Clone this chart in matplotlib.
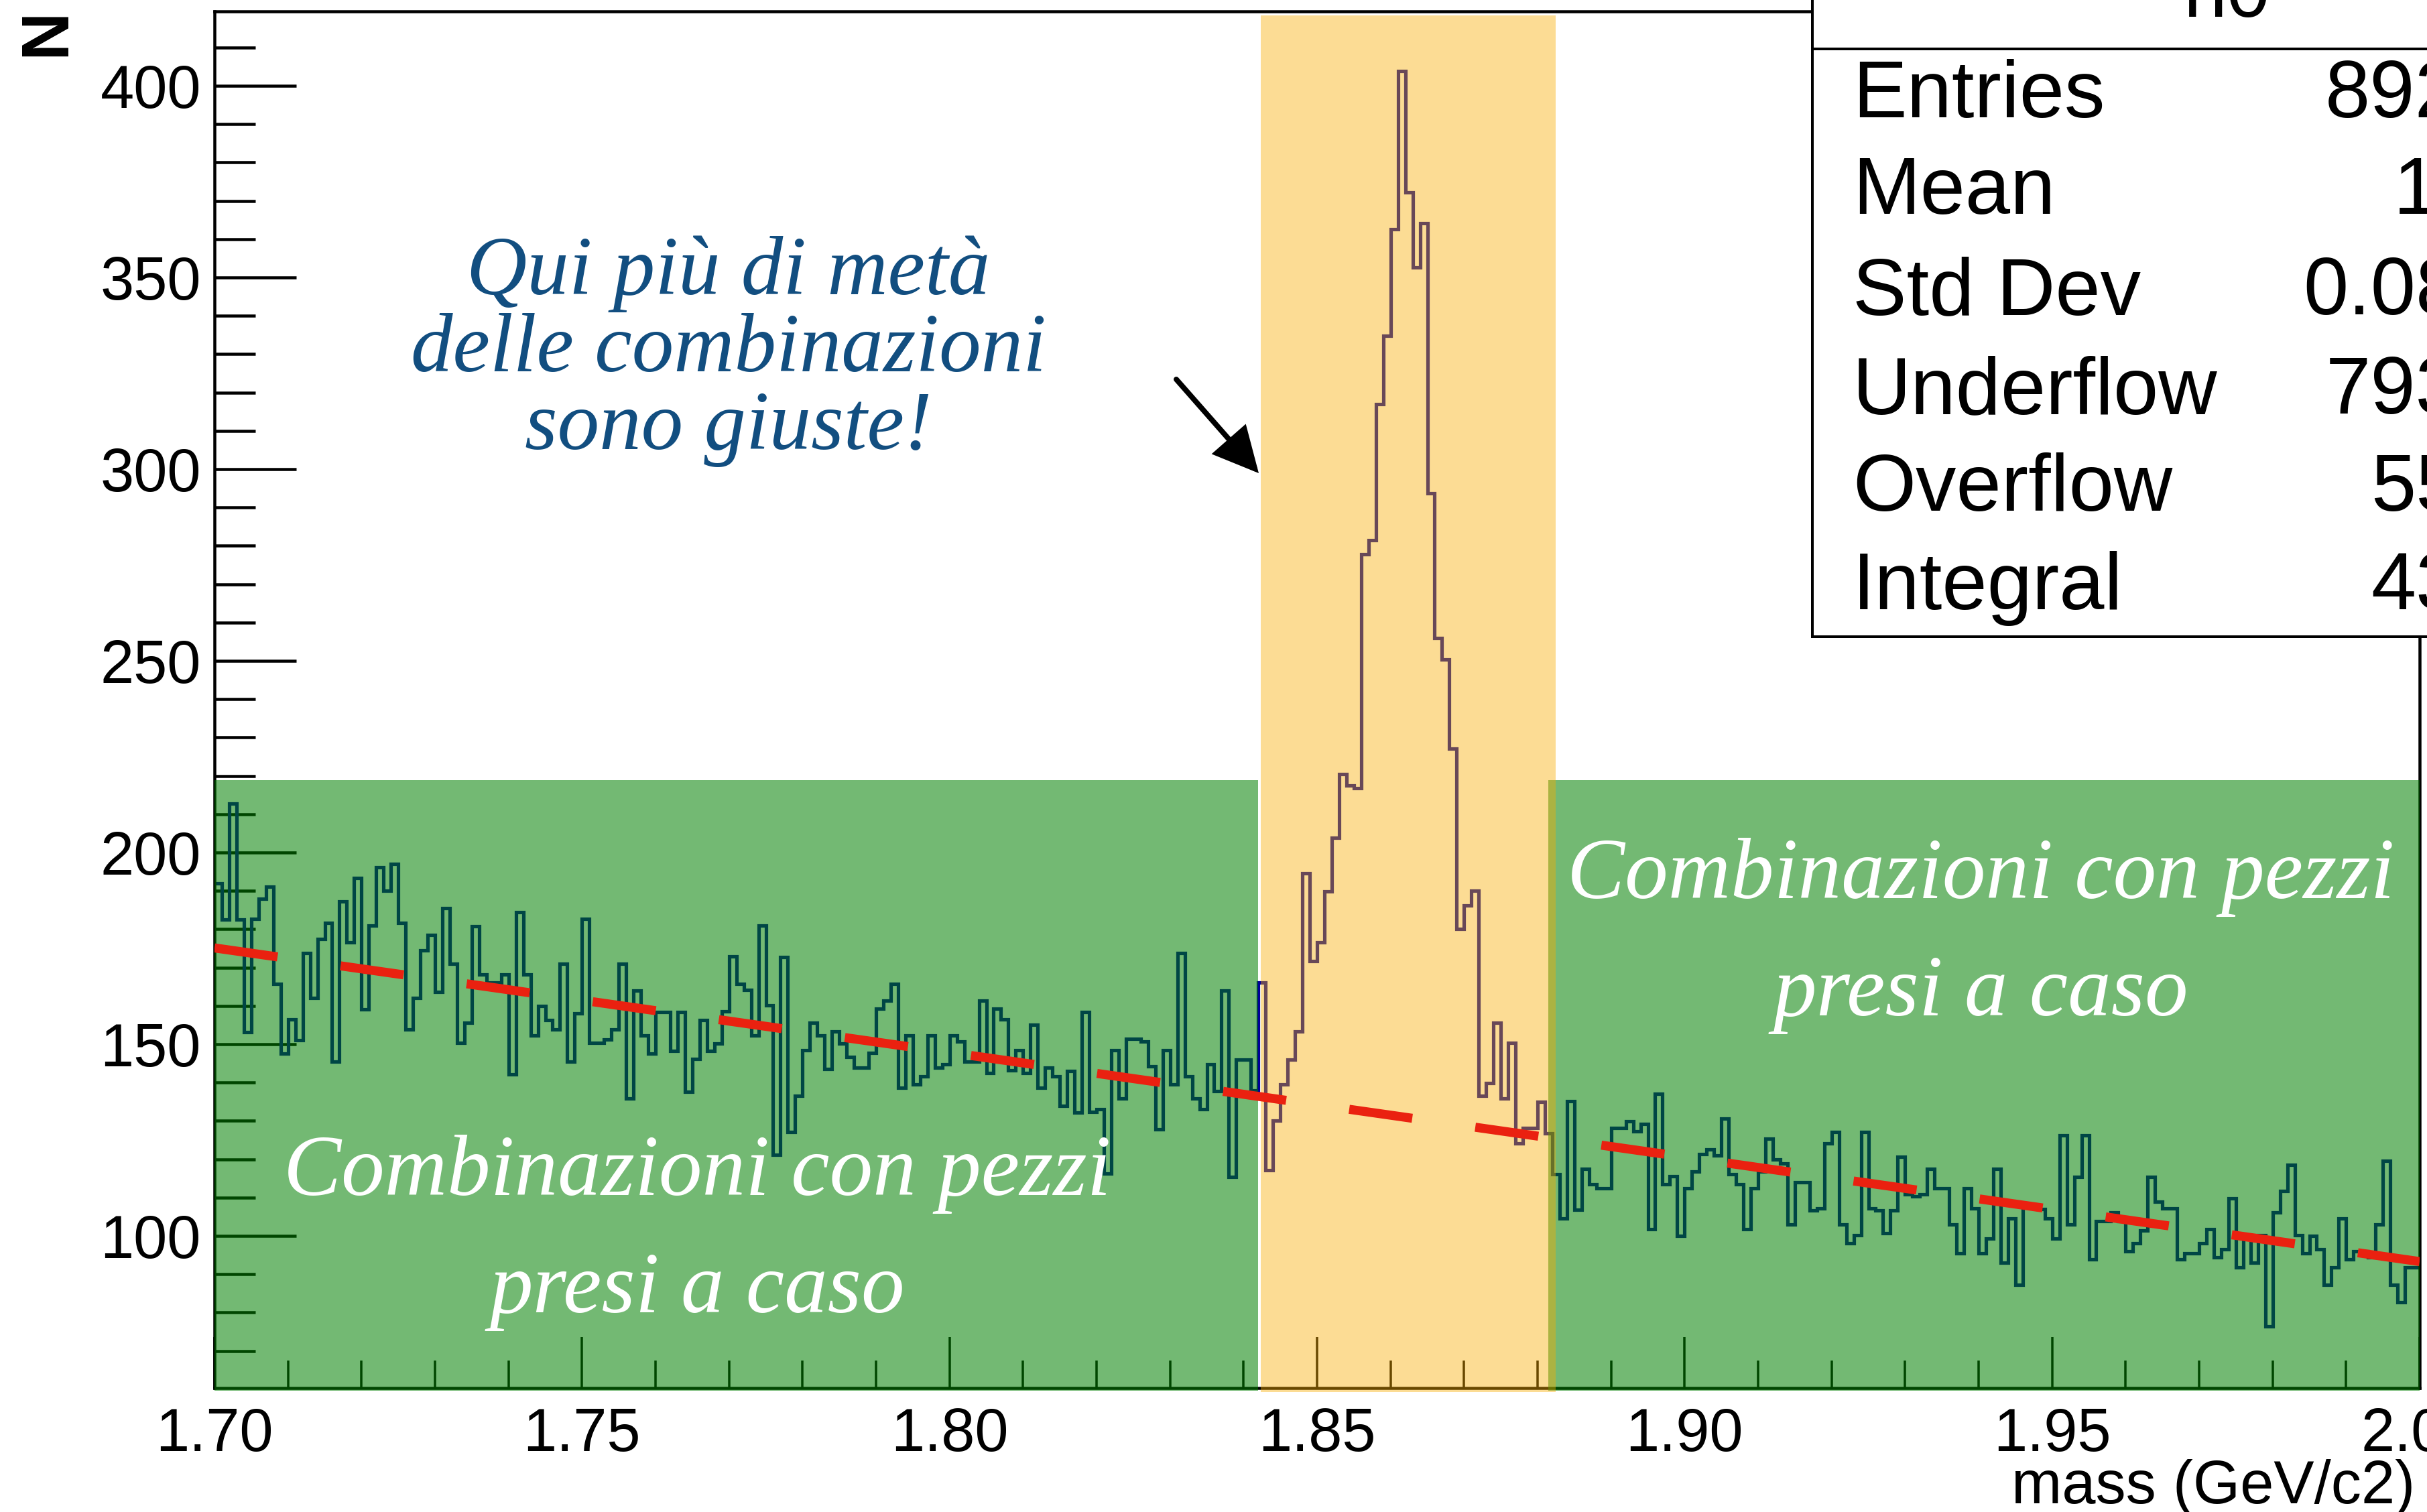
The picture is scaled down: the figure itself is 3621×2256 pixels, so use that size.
import numpy as np
import matplotlib
matplotlib.use("Agg")
import matplotlib.pyplot as plt
from matplotlib.patches import Rectangle
from matplotlib.lines import Line2D

# ---------------- data ----------------
x_min, x_max, n_bins = 1.70, 2.00, 300

counts_000_099 = [
    192.0, 182.5, 212.7, 182.5, 153.1, 182.7, 188.0, 191.0, 165.7, 147.5,
    156.5, 151.0, 173.8, 162.0, 177.4, 181.6, 145.5, 187.3, 176.6, 193.4,
    159.1, 180.9, 196.1, 190.1, 197.0, 181.6, 153.8, 162.1, 174.5, 178.5,
    163.7, 185.5, 171.0, 150.3, 155.6, 180.7, 168.2, 166.0, 166.0, 168.2,
    142.1, 184.4, 168.2, 152.2, 160.0, 156.3, 153.8, 171.0, 145.5, 158.1,
    182.7, 150.3, 150.3, 151.2, 153.8, 171.0, 135.8, 163.9, 152.2, 147.5,
    158.3, 158.3, 148.3, 158.3, 137.6, 146.2, 156.3, 148.3, 150.1, 158.6,
    172.9, 165.7, 164.1, 152.2, 180.9, 160.2, 121.2, 172.7, 127.0, 136.6,
    148.5, 155.6, 152.2, 143.5, 153.3, 150.1, 146.7, 143.9, 143.9, 147.8,
    159.3, 161.3, 165.7, 138.7, 152.2, 139.5, 141.6, 152.2, 143.9, 144.8,
]
counts_100_199 = [
    152.2, 150.6, 145.5, 145.5, 161.3, 142.5, 159.3, 156.5, 143.2, 148.5,
    142.5, 155.1, 138.7, 143.9, 141.6, 133.9, 143.0, 132.1, 158.4, 132.3,
    133.1, 116.3, 148.5, 135.8, 151.4, 151.4, 150.6, 144.3, 127.8, 148.5,
    139.5, 173.8, 141.6, 135.8, 133.1, 144.8, 137.7, 163.9, 115.3, 145.9,
    145.9, 138.0, 166.0, 117.2, 130.0, 139.5, 145.9, 153.3, 194.5, 171.7,
    176.6, 189.9, 203.8, 220.5, 217.5, 216.8, 277.8, 281.4, 316.9, 334.7,
    362.5, 403.8, 372.2, 352.7, 364.2, 293.7, 256.0, 250.3, 227.1, 180.1,
    186.2, 190.1, 136.5, 139.8, 155.6, 135.8, 150.4, 124.1, 128.1, 128.1,
    135.0, 126.8, 116.1, 104.5, 135.2, 106.8, 117.4, 113.5, 112.4, 112.4,
    128.1, 128.1, 129.9, 127.3, 129.1, 101.8, 137.0, 113.5, 115.6, 99.9,
]
counts_200_299 = [
    112.4, 116.7, 121.4, 122.5, 120.9, 130.5, 116.1, 113.5, 101.8, 112.4,
    116.7, 125.4, 119.9, 118.8, 102.9, 114.0, 114.0, 106.6, 107.1, 124.1,
    127.1, 102.9, 98.1, 100.2, 127.1, 107.1, 106.6, 100.7, 106.6, 120.6,
    110.8, 110.3, 110.8, 117.4, 112.4, 112.4, 102.9, 95.4, 112.4, 107.1,
    95.4, 99.2, 117.4, 93.0, 104.5, 87.3, 108.0, 107.6, 107.0, 104.5,
    99.2, 126.2, 102.9, 115.3, 126.2, 93.8, 103.9, 103.9, 106.1, 103.9,
    96.0, 98.1, 101.3, 115.3, 108.9, 107.1, 107.1, 93.8, 95.4, 95.4,
    98.1, 101.8, 94.4, 96.5, 109.8, 91.7, 100.0, 93.0, 100.2, 76.3,
    106.1, 111.7, 118.5, 100.2, 95.4, 100.0, 96.5, 87.3, 91.7, 104.5,
    93.8, 96.0, 96.0, 94.4, 102.9, 119.5, 87.3, 82.7, 91.7, 91.7,
]

# linear background fit: value at x_min and slope (per GeV)
bkg_at_xmin = 175.1
bkg_slope = -272.7

# highlighted regions
sideband_low = [1.70, 1.8420]
sideband_high = [1.8815, 2.00]
sideband_top = 218.8
signal_window = [1.8423, 1.8825]

y_range = [60.3, 419.4]
x_ticks = [1.70, 1.75, 1.80, 1.85, 1.90, 1.95, 2.00]
y_ticks = [100, 150, 200, 250, 300, 350, 400]

note_lines = ["Qui più di metà", "delle combinazioni", "sono giuste!"]
bkg_lines = ["Combinazioni con pezzi", "presi a caso"]

hist_title = "h0"
stats_labels = ["Entries", "Mean", "Std Dev", "Underflow", "Overflow", "Integral"]
stats_values = ["892279", "1.843", "0.08354", "793512", "55301", "43466"]

x_title = "mass (GeV/c2)"
y_title = "N"

# ---------------- figure ----------------
W, H, DPI = 3621, 2256, 100
PT = 72.0 / DPI  # points per pixel

fig = plt.figure(figsize=(W / DPI, H / DPI), dpi=DPI, facecolor="white")
ax = fig.add_axes([320 / W, 185 / H, 3290 / W, 2054 / H])

counts = np.array(counts_000_099 + counts_100_199 + counts_200_299)
edges = np.linspace(x_min, x_max, n_bins + 1)

sans = "Liberation Sans"
script = "Liberation Serif"

ax.stairs(counts, edges, baseline=None, color=(0, 0, 0.6), linewidth=5.2 * PT, zorder=2)

ax.set_xlim(x_min, x_max)
ax.set_ylim(*y_range)

ax.set_xticks(x_ticks)
ax.set_xticklabels([f"{t:.2f}" for t in x_ticks])
ax.set_xticks(np.arange(1.70, 2.0001, 0.01), minor=True)
ax.set_yticks(y_ticks)
ax.set_yticklabels([f"{t:d}" for t in y_ticks])
ax.set_yticks(np.arange(70, 419, 10), minor=True)

lab_fs = 65
for lab in ax.get_xticklabels() + ax.get_yticklabels():
    lab.set_fontfamily(sans)
    lab.set_fontsize(lab_fs)

ax.tick_params(axis="y", which="major", direction="in", length=122 * PT, width=4.5 * PT, pad=20 * PT)
ax.tick_params(axis="y", which="minor", direction="in", length=61 * PT, width=4.5 * PT)
ax.tick_params(axis="x", which="major", direction="in", length=76 * PT, width=3.5 * PT, pad=28 * PT)
ax.tick_params(axis="x", which="minor", direction="in", length=41 * PT, width=3.5 * PT)
for s in ax.spines.values():
    s.set_linewidth(4.5 * PT)

# highlight overlays (drawn above the frame/ticks, like highlighter marks)
green = (0.0, 0.50, 0.0)
ax.add_patch(Rectangle((sideband_low[0], y_range[0] - 0.7), sideband_low[1] - sideband_low[0],
                       sideband_top - y_range[0] + 0.7, facecolor=green, alpha=0.55,
                       edgecolor="none", zorder=3, clip_on=False))
ax.add_patch(Rectangle((sideband_high[0], y_range[0] - 0.7), sideband_high[1] - sideband_high[0],
                       sideband_top - y_range[0] + 0.7, facecolor=green, alpha=0.55,
                       edgecolor="none", zorder=3, clip_on=False))
ax.add_patch(Rectangle((signal_window[0], y_range[0] - 1.0), signal_window[1] - signal_window[0],
                       y_range[1] - 1.0 - y_range[0] + 1.0, facecolor=(0.98, 0.675, 0.0),
                       alpha=0.42, edgecolor="none", zorder=3.1, clip_on=False))

# background fit (dashed red)
xf = np.linspace(x_min, x_max, 400)
yf = bkg_at_xmin + bkg_slope * (xf - x_min)
lw_fit = 13.5
ax.plot(xf, yf, color="#EA2110", linewidth=lw_fit * PT, dashes=(95 / lw_fit, 95 / lw_fit),
        dash_capstyle="butt", zorder=4)

# annotations
def px2data(px, py):
    xd = x_min + (px - 320) / 3290 * (x_max - x_min)
    yd = y_range[1] - (py - 17) * (y_range[1] - y_range[0]) / 2054
    return xd, yd

blue = "#124E80"
for k, line in enumerate(note_lines):
    xd, yd = px2data(1087, 439 + 115.5 * k)
    ax.text(xd, yd, line, color=blue, fontsize=90, family=script, style="italic",
            ha="center", va="baseline", zorder=5)

for cx, by in [(1040, 1783), (2955, 1340)]:
    for k, line in enumerate(bkg_lines):
        xd, yd = px2data(cx, by + 175 * k)
        ax.text(xd, yd, line, color="white", fontsize=93, family=script, style="italic",
                ha="center", va="baseline", zorder=5)

xa, ya = px2data(1755, 566)
xb, yb = px2data(1878, 706)
ax.annotate("", xy=(xb, yb), xytext=(xa, ya),
            arrowprops=dict(arrowstyle="-|>,head_length=1.1,head_width=0.55", color="black",
                            lw=8 * PT, shrinkA=0, shrinkB=0, mutation_scale=36,
                            joinstyle="miter"),
            zorder=5)

# axis titles
fig.text(3603 / W, 1 - 2243 / H, x_title, fontsize=65, family=sans, ha="right", va="baseline")
fig.text(70 / W, 1 - 48 / H, y_title, fontsize=72, family=sans, rotation=90, ha="center",
         va="center", fontweight="bold")

# stats box
def fx(px):
    return px / W

def fy(py):
    return 1 - py / H

box_l, box_r, box_b, box_t = 2704, 3942, 950, -300
fig.add_artist(Rectangle((fx(box_l), fy(box_b)), fx(box_r) - fx(box_l), fy(box_t) - fy(box_b),
                         transform=fig.transFigure, facecolor="white", edgecolor="black",
                         linewidth=4 * PT, zorder=10, clip_on=False))
fig.add_artist(Line2D([fx(box_l), fx(box_r)], [fy(73), fy(73)], transform=fig.transFigure,
                      color="black", linewidth=4 * PT, zorder=11))
fig.text(fx(3323), fy(25), hist_title, fontsize=84, family=sans, ha="center", va="baseline", zorder=12)
baselines = [175, 319, 469, 617, 762, 909]
for lab, val, by in zip(stats_labels, stats_values, baselines):
    fig.text(fx(2764), fy(by), lab, fontsize=87, family=sans, ha="left", va="baseline", zorder=12)
    fig.text(fx(3873), fy(by), val, fontsize=87, family=sans, ha="right", va="baseline", zorder=12)

fig.savefig("out.png", dpi=DPI, facecolor="white")
